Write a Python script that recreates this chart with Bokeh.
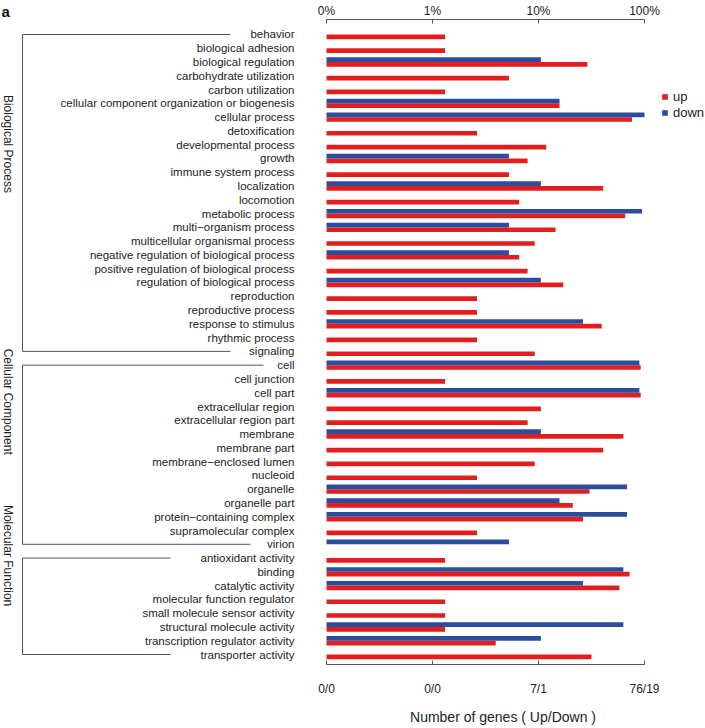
import numpy as np
from bokeh.plotting import figure
from bokeh.layouts import row
from bokeh.models import (Range1d, FixedTicker, LogAxis, ColumnDataSource,
                          Legend, LegendItem, Title)
from bokeh.core.properties import value
from bokeh.embed import file_html
from bokeh.resources import INLINE

# ---------------- data ----------------
bp_terms = ["behavior", "biological adhesion", "biological regulation",
            "carbohydrate utilization", "carbon utilization",
            "cellular component organization or biogenesis", "cellular process",
            "detoxification", "developmental process", "growth",
            "immune system process", "localization", "locomotion",
            "metabolic process", "multi\u2212organism process",
            "multicellular organismal process",
            "negative regulation of biological process",
            "positive regulation of biological process",
            "regulation of biological process", "reproduction",
            "reproductive process", "response to stimulus", "rhythmic process",
            "signaling"]
cc_terms = ["cell", "cell junction", "cell part", "extracellular region",
            "extracellular region part", "membrane", "membrane part",
            "membrane\u2212enclosed lumen", "nucleoid", "organelle",
            "organelle part", "protein\u2212containing complex",
            "supramolecular complex", "virion"]
mf_terms = ["antioxidant activity", "binding", "catalytic activity",
            "molecular function regulator", "small molecule sensor activity",
            "structural molecule activity", "transcription regulator activity",
            "transporter activity"]

bp_up = [1, 1, 22, 4, 1, 12, 58, 2, 9, 6, 4, 31, 5, 50, 11, 7, 5, 6, 13, 2, 2, 30, 2, 7]
bp_down = [0, 0, 2, 0, 0, 3, 19, 0, 0, 1, 0, 2, 0, 18, 1, 0, 1, 0, 2, 0, 0, 5, 0, 0]
cc_up = [70, 1, 70, 8, 6, 48, 31, 7, 2, 23, 16, 20, 2, 0]
cc_down = [17, 0, 17, 0, 0, 2, 0, 0, 0, 13, 3, 13, 0, 1]
mf_up = [1, 55, 44, 1, 1, 1, 3, 24]
mf_down = [0, 12, 5, 0, 0, 12, 2, 0]

up_total = 76
down_total = 19

group_names = ["Biological Process", "Cellular Component", "Molecular Function"]
pct_ticks = [0.1, 1, 10, 100]
top_tick_labels = ["0%", "1%", "10%", "100%"]
bottom_tick_labels = ["0/0", "0/0", "7/1", "76/19"]
series_names = ["up", "down"]
panel_letter = "a"
x_title = "Number of genes ( Up/Down )"

# ---------------- layout / style ----------------
RED = "#E31E1E"
BLUE = "#2C4C9C"
TXT = "#222222"
AXC = "#555555"
FONT = "Liberation Sans"

FIG_H = 727
LEFT_W = 300            # label panel width (page px)
RIGHT_W = 705 - LEFT_W  # bar panel width
X0 = 326.0              # page px where the 0 (0.1%) baseline sits
DEC = 106.0             # px per decade
FRAME_TOP, FRAME_BOTTOM = 19.0, 665.0
ROW0, ROW_H = 34.0, 13.8


def xpx(px):
    return 0.1 * 10 ** ((px - X0) / DEC)


def ypx(py):
    return (py - ROW0) / ROW_H


terms = bp_terms + cc_terms + mf_terms
up = np.array(bp_up + cc_up + mf_up, dtype=float)
down = np.array(bp_down + cc_down + mf_down, dtype=float)
rows = np.arange(len(terms), dtype=float)
up_pct = up / up_total * 100
down_pct = down / down_total * 100

common = dict(height=FIG_H, toolbar_location=None, output_backend="svg",
              min_border_left=0, min_border_right=0,
              min_border_top=int(FRAME_TOP),
              min_border_bottom=int(FIG_H - FRAME_BOTTOM))

# ---------------- left panel: labels and brackets ----------------
left = figure(width=LEFT_W, x_range=Range1d(0, LEFT_W),
              y_range=Range1d(ypx(FRAME_BOTTOM), ypx(FRAME_TOP)),
              x_axis_location=None, y_axis_location=None, **common)
left.grid.visible = False
left.outline_line_color = None
left.title = Title(text=panel_letter, align="left", text_font=FONT,
                   text_font_style="bold", text_font_size="15px",
                   text_color="#111111", standoff=0, offset=1)

lab_src = ColumnDataSource(dict(x=[294] * len(terms), y=rows, t=terms))
left.text(x="x", y="y", text="t", source=lab_src, text_align="right",
          text_baseline="middle", text_font=value(FONT), text_font_size="11.5px",
          text_color=TXT)

sizes = [len(bp_terms), len(cc_terms), len(mf_terms)]
top_ends = [230, 263, 170]
bot_ends = [230, 250, 170]
start = 0
gx, gy = [], []
for n, te, be in zip(sizes, top_ends, bot_ends):
    a, b = start, start + n - 1
    left.line(x=[te, 22, 22, be], y=[a, a, b, b], line_color=AXC, line_width=1)
    gx.append(7.5)
    gy.append((a + b) / 2)
    start += n
left.text(x=gx, y=gy, text=group_names, angle=-np.pi / 2, text_align="right",
          text_baseline="middle", text_font=value(FONT), text_font_size="12px",
          text_color=TXT)

# ---------------- right panel: bars and axes ----------------
p = figure(width=RIGHT_W, x_axis_type="log",
           x_range=Range1d(xpx(LEFT_W), xpx(705)),
           y_range=Range1d(ypx(FRAME_BOTTOM), ypx(FRAME_TOP)),
           x_axis_location="above", y_axis_location=None, **common)
p.grid.visible = False
p.outline_line_color = None

mu = up > 0
md = down > 0
src_up = ColumnDataSource(dict(y=rows[mu] + 0.17, right=up_pct[mu]))
src_dn = ColumnDataSource(dict(y=rows[md] - 0.17, right=down_pct[md]))
r_up = p.hbar(y="y", left=0.1, right="right", height=0.34, source=src_up,
              fill_color=RED, line_color=None)
r_dn = p.hbar(y="y", left=0.1, right="right", height=0.34, source=src_dn,
              fill_color=BLUE, line_color=None)

top = p.xaxis[0]
top.ticker = FixedTicker(ticks=pct_ticks, minor_ticks=[])
top.major_label_overrides = dict(zip(pct_ticks, top_tick_labels))
bottom = LogAxis(ticker=FixedTicker(ticks=pct_ticks, minor_ticks=[]),
                 major_label_overrides=dict(zip(pct_ticks, bottom_tick_labels)),
                 axis_label=x_title)
p.add_layout(bottom, "below")
for ax in (top, bottom):
    ax.bounds = (0.1, 100)
    ax.axis_line_color = AXC
    ax.major_tick_line_color = AXC
    ax.major_tick_in = 4
    ax.major_tick_out = 0
    ax.minor_tick_line_color = None
    ax.major_label_text_font = FONT
    ax.major_label_text_font_size = "12px"
    ax.major_label_text_color = TXT
top.major_label_standoff = 2
bottom.major_label_standoff = 17
bottom.axis_label_text_font = FONT
bottom.axis_label_text_font_size = "14px"
bottom.axis_label_text_font_style = "normal"
bottom.axis_label_text_color = TXT
bottom.axis_label_standoff = 10

legend = Legend(items=[LegendItem(label=series_names[0], renderers=[r_up]),
                       LegendItem(label=series_names[1], renderers=[r_dn])],
                location=(661 - LEFT_W, 544), glyph_width=7, glyph_height=7,
                label_height=16, spacing=0, padding=0, margin=0,
                label_standoff=5, label_text_font=FONT,
                label_text_font_size="13px", label_text_color=TXT,
                border_line_color=None, background_fill_alpha=0)
p.add_layout(legend)

layout = row(left, p, spacing=0)
open("out.html", "w").write(file_html(layout, INLINE))
